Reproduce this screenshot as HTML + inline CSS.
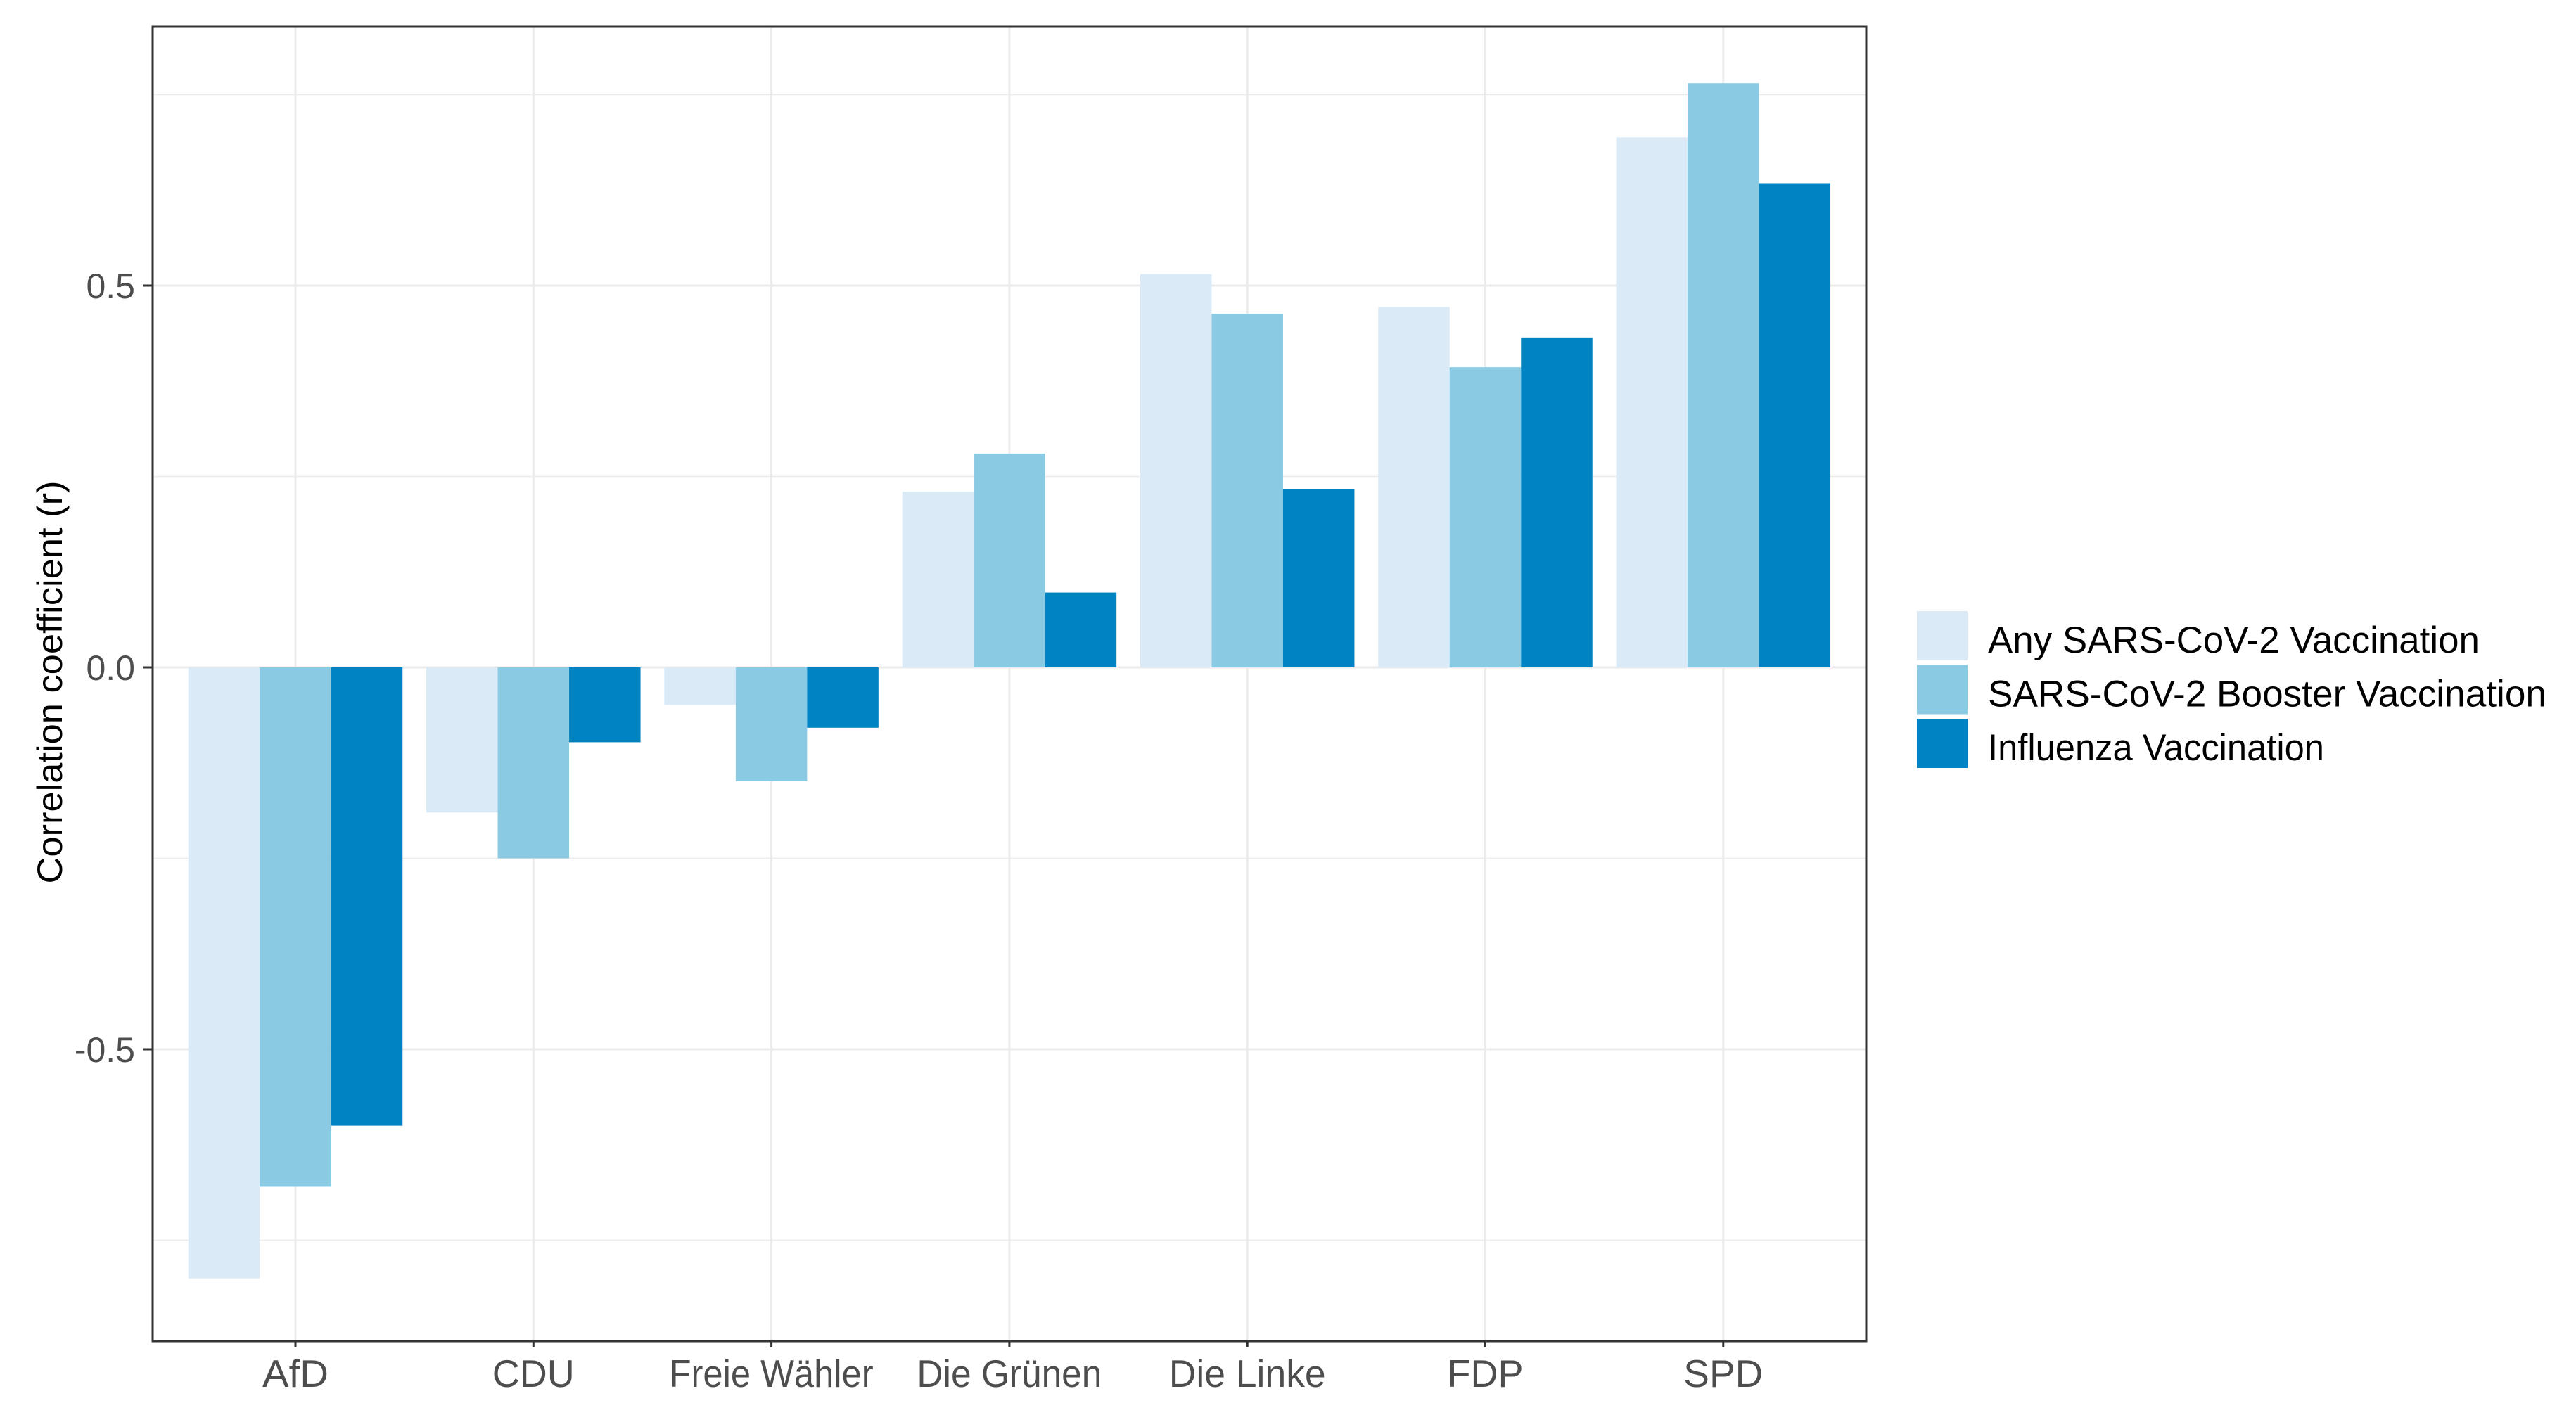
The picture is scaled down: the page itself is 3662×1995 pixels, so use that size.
<!DOCTYPE html>
<html><head><meta charset="utf-8"><style>
html,body{margin:0;padding:0;background:#fff;}
svg{display:block;font-family:"Liberation Sans",Arial,sans-serif;}
</style></head><body>
<svg id="chart" width="3662" height="1995" viewBox="0 0 3662 1995" xmlns="http://www.w3.org/2000/svg">
<rect x="0" y="0" width="3662" height="1995" fill="#fff"/>
<g id="grid"></g>
<g id="bars"></g>
<g id="axes"></g>
<g id="legend"></g>
<text transform="translate(88,970) rotate(-90)" text-anchor="middle" font-size="50" fill="#000" textLength="573" lengthAdjust="spacingAndGlyphs">Correlation coefficient (r)</text>
</svg>
<script>
const categories = ["AfD","CDU","Freie Wähler","Die Grünen","Die Linke","FDP","SPD"];
const seriesNames = ["Any SARS-CoV-2 Vaccination","SARS-CoV-2 Booster Vaccination","Influenza Vaccination"];
const anyVacc = [-0.80,-0.19,-0.049,0.23,0.515,0.472,0.694];
const boosterVacc = [-0.68,-0.25,-0.149,0.28,0.463,0.393,0.765];
const fluVacc = [-0.60,-0.098,-0.079,0.098,0.233,0.432,0.634];
const yTicks = [-0.5,0,0.5];
const yTickLabels = ["-0.5","0.0","0.5"];
const yMinor = [-0.75,-0.25,0.25,0.75];

const NS="http://www.w3.org/2000/svg";
const L=217,R=2653,T=38,B=1907;
const zeroY=949, pxPerUnit=1086;
const x0=420, step=338.3, barW=101.5;
const colors=["#daebf7","#8bcae3","#0083c2"];
const series=[anyVacc,boosterVacc,fluVacc];
function yS(v){return zeroY - v*pxPerUnit;}
function xS(i){return x0 + i*step;}
function mk(tag,attrs,parent){const e=document.createElementNS(NS,tag);for(const k in attrs)e.setAttribute(k,attrs[k]);parent.appendChild(e);return e;}
const grid=document.getElementById('grid'),bars=document.getElementById('bars'),axes=document.getElementById('axes'),legend=document.getElementById('legend');

yMinor.forEach(v=>{const e=mk('line',{x1:L,x2:R,y1:yS(v),y2:yS(v),stroke:'#ebebeb','stroke-width':1.6},grid);

});
yTicks.forEach(v=>{const e=mk('line',{x1:L,x2:R,y1:yS(v),y2:yS(v),stroke:'#ebebeb','stroke-width':3},grid);

});
categories.forEach((c,i)=>{const e=mk('line',{x1:xS(i),x2:xS(i),y1:T,y2:B,stroke:'#ebebeb','stroke-width':3},grid);

});

categories.forEach((c,i)=>{
  series.forEach((s,j)=>{
    const v=s[i];
    const bx=xS(i)-1.5*barW+j*barW;
    const y1=Math.min(yS(v),zeroY), h=Math.abs(yS(v)-zeroY);
    const r=mk('rect',{x:bx,y:y1,width:barW,height:h,fill:colors[j]},bars);
    
    
  });
});

const frame=mk('rect',{x:L,y:T,width:R-L,height:B-T,fill:'none',stroke:'#333','stroke-width':3},axes);


yTicks.forEach((v,i)=>{
  const t=mk('line',{x1:203,x2:L,y1:yS(v),y2:yS(v),stroke:'#333','stroke-width':3},axes);
  
  
  const lb=mk('text',{x:192,y:yS(v)+18,'text-anchor':'end','font-size':50,fill:'#4d4d4d'},axes);
  lb.textContent=yTickLabels[i];
  
  
});
const xLabelWidths=[94,117,290,263,223,108,113];
categories.forEach((c,i)=>{
  const t=mk('line',{x1:xS(i),x2:xS(i),y1:B,y2:B+9,stroke:'#333','stroke-width':3},axes);
  
  
  const lb=mk('text',{x:xS(i),y:1972,'text-anchor':'middle','font-size':55,fill:'#4d4d4d',textLength:xLabelWidths[i],lengthAdjust:'spacingAndGlyphs'},axes);
  lb.textContent=c;
  
  
});

const legW=[699,794,478];
seriesNames.forEach((n,j)=>{
  const ky=869+j*76.5;
  const k=mk('rect',{x:2725,y:ky,width:72,height:70,fill:colors[j]},legend);
  
  
  const tx=mk('text',{x:2826,y:ky+59,'font-size':53,fill:'#000',textLength:legW[j],lengthAdjust:'spacingAndGlyphs'},legend);
  tx.textContent=n;
  
  
});
</script>
</body></html>
